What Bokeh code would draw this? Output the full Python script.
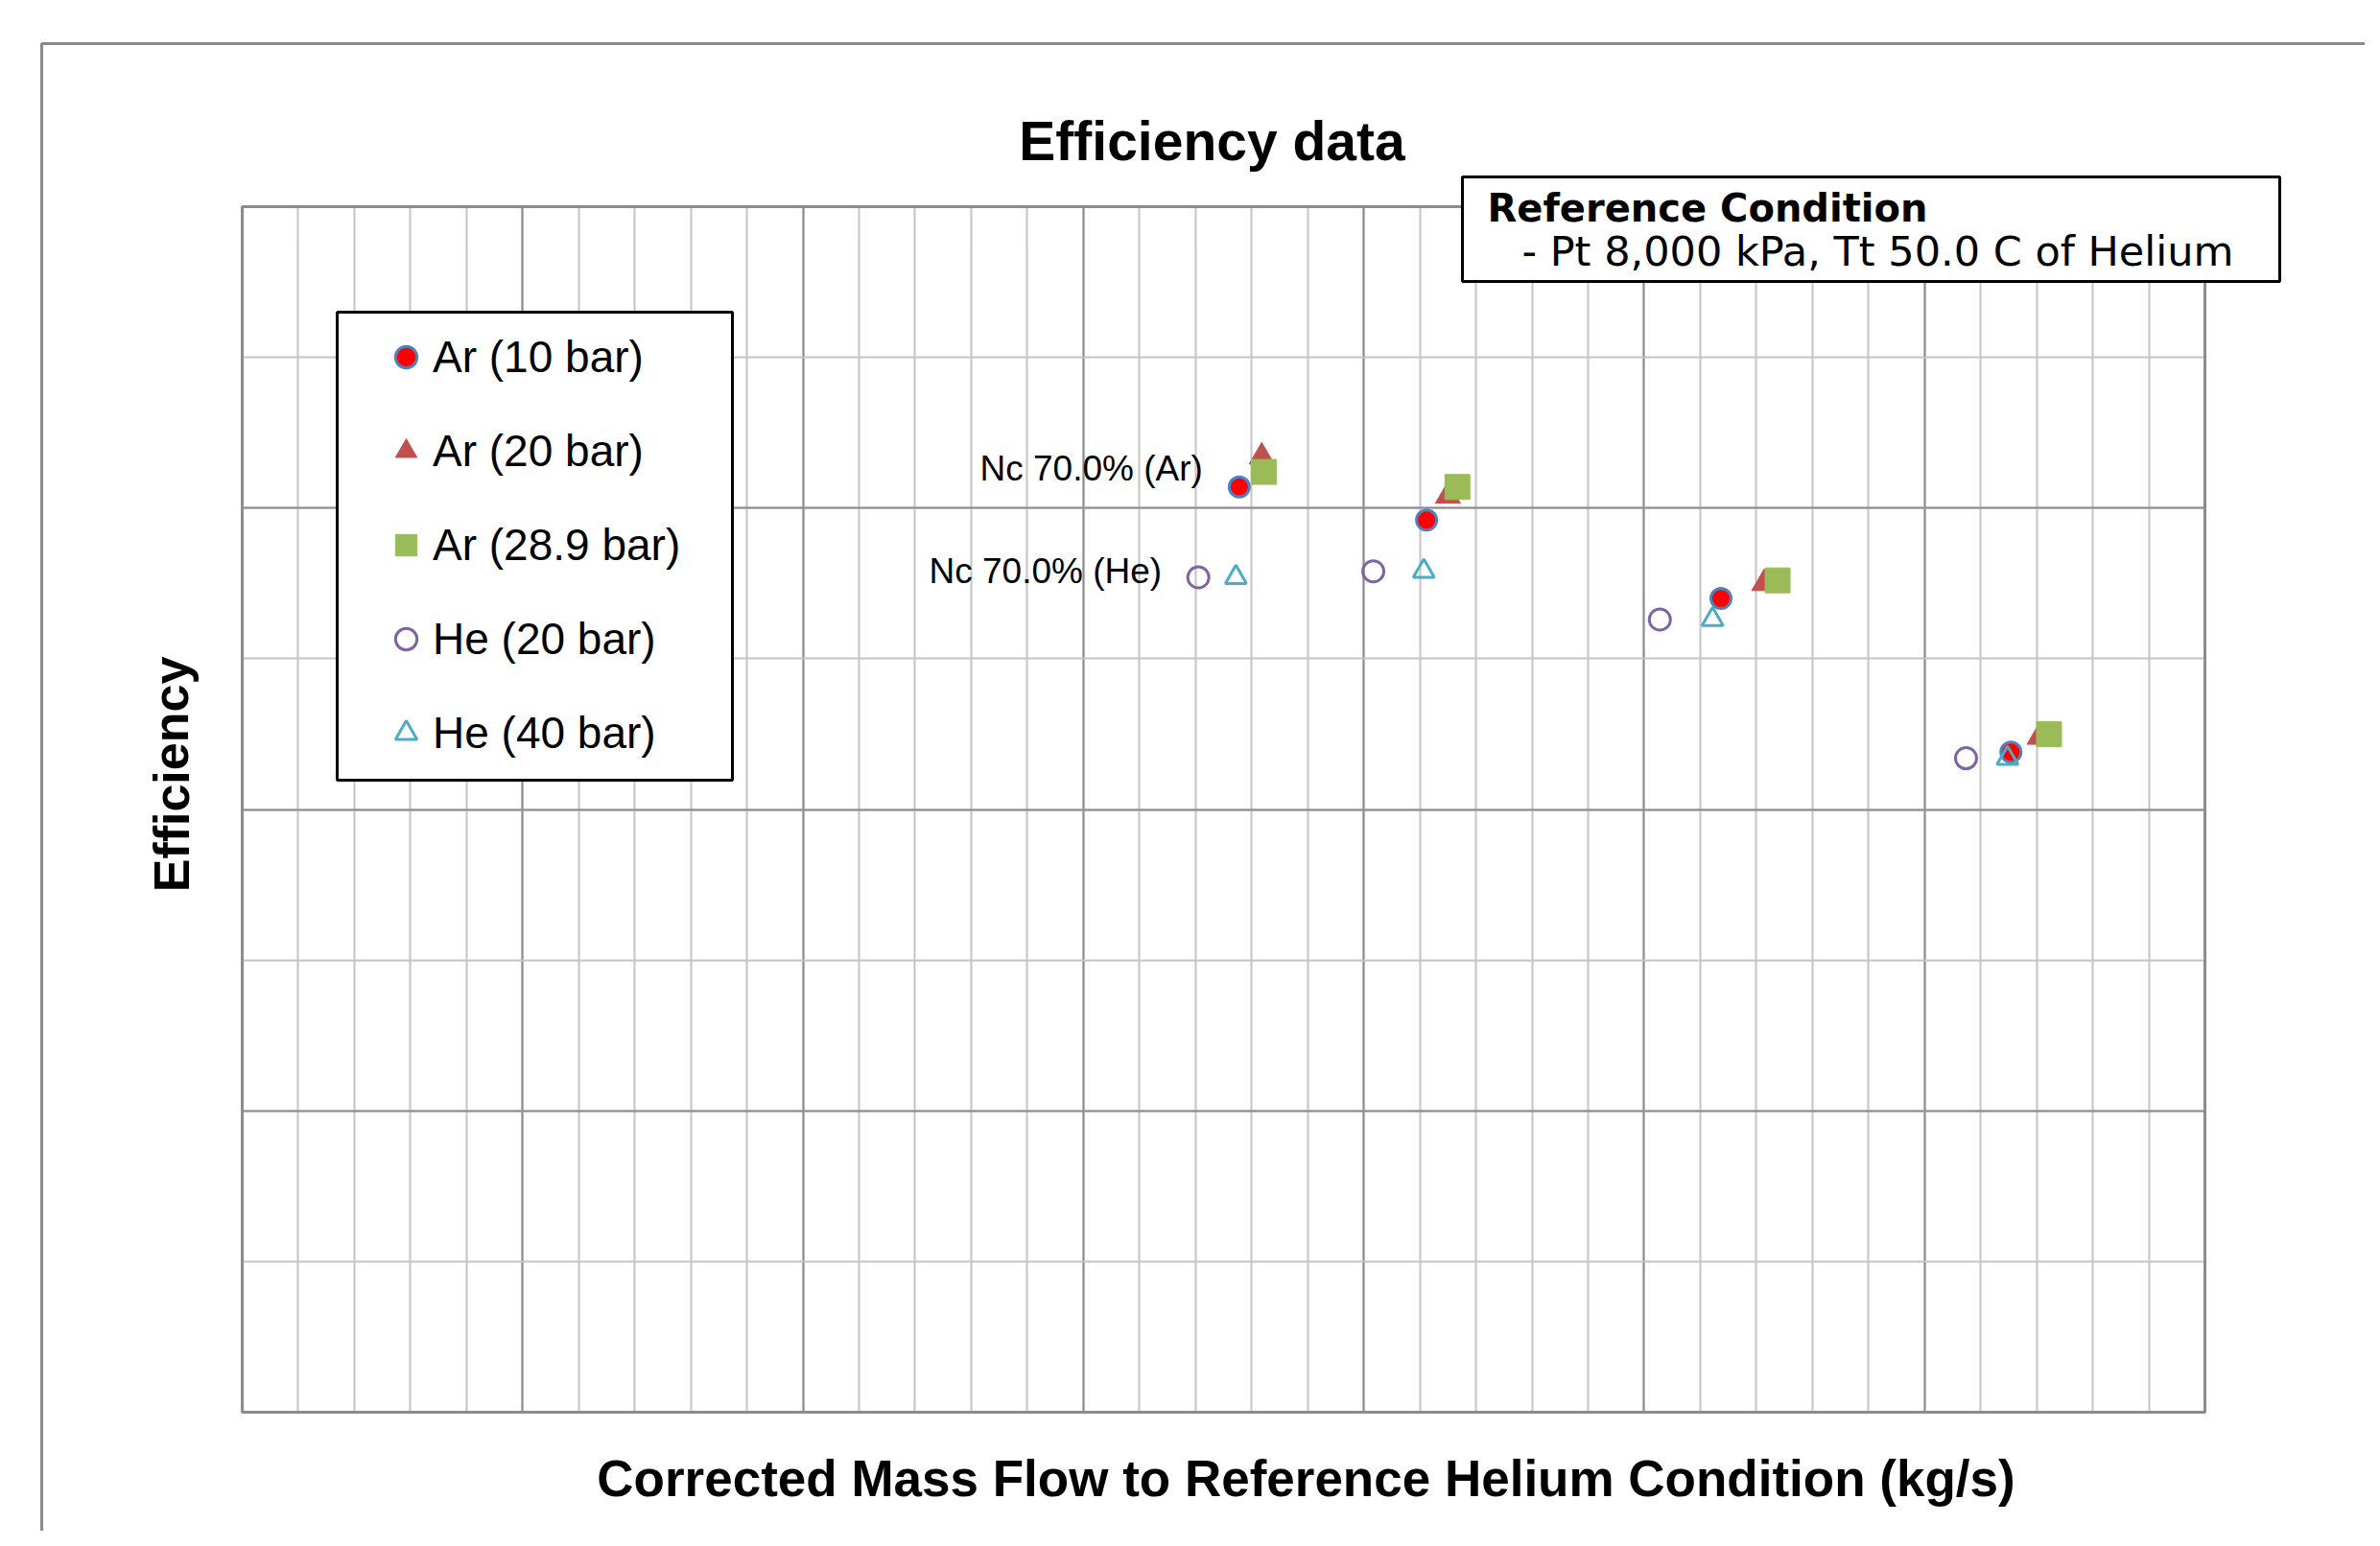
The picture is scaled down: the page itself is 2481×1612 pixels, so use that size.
from bokeh.plotting import figure
from bokeh.models import (Label, BoxAnnotation, Legend, LegendItem, Grid,
                          SingleIntervalTicker, Range1d)
from bokeh.embed import file_html
from bokeh.resources import INLINE

# ---- data (the axes carry no printed tick labels) ----
series_names = ["Ar (10 bar)", "Ar (20 bar)", "Ar (28.9 bar)", "He (20 bar)", "He (40 bar)"]
ar10_x = [1.778, 2.112, 2.637, 3.154]
ar10_y = [0.807, 0.796, 0.770, 0.719]
ar20_x = [1.818, 2.150, 2.714, 3.205]
ar20_y = [0.817, 0.804, 0.775, 0.724]
ar29_x = [1.822, 2.167, 2.738, 3.222]
ar29_y = [0.812, 0.807, 0.776, 0.725]
he20_x = [1.705, 2.017, 2.528, 3.074]
he20_y = [0.777, 0.779, 0.763, 0.717]
he40_x = [1.772, 2.107, 2.622, 3.148]
he40_y = [0.777, 0.779, 0.763, 0.717]
annot_texts = ["Nc 70.0% (Ar)", "Nc 70.0% (He)"]
title_text = "Efficiency data"
x_label = "Corrected Mass Flow to Reference Helium Condition (kg/s)"
y_label = "Efficiency"
ref_title = "Reference Condition"
ref_line = "- Pt 8,000 kPa, Tt 50.0 C of Helium"

# axis extent of the plotting area and its grid spacing
X0, X1, Y0, Y1 = 0.0, 3.5, 0.5, 0.9
X_MAJOR, X_MINORS = 0.5, 5
Y_MAJOR, Y_MINORS = 0.1, 2

W, H = 2465, 1596
# canvas pixel -> data helpers (plot area sits at px 252..2298, 215..1472)
FL, FT, FW, FH = 252, 215, 2046, 1257
def X(px):
    return X0 + (px - FL) / FW * (X1 - X0)
def Y(py):
    return Y1 - (py - FT) / FH * (Y1 - Y0)

p = figure(width=W, height=H, output_backend="svg", toolbar_location=None,
           x_range=Range1d(X(0), X(W)), y_range=Range1d(Y(H), Y(0)),
           x_axis_location=None, y_axis_location=None,
           min_border_left=0, min_border_right=0,
           min_border_top=0, min_border_bottom=0)
p.background_fill_color = "white"
p.border_fill_color = "white"
p.outline_line_color = None

p.xgrid.ticker = SingleIntervalTicker(interval=X_MAJOR, num_minor_ticks=X_MINORS)
p.ygrid.ticker = SingleIntervalTicker(interval=Y_MAJOR, num_minor_ticks=Y_MINORS)
p.xgrid.bounds = (X0, X1)
p.ygrid.bounds = (Y0, Y1)
if "cross_bounds" in Grid.properties():
    p.xgrid.cross_bounds = (Y0, Y1)
    p.ygrid.cross_bounds = (X0, X1)
for g in (p.xgrid, p.ygrid):
    g.grid_line_color = "#8c8c8c"
    g.grid_line_width = 2
    g.minor_grid_line_color = "#c4c4c4"
    g.minor_grid_line_width = 2

r1 = p.scatter(ar10_x, ar10_y, marker="circle", size=21, fill_color="#FF0000",
               line_color="#4F81BD", line_width=3)
r2 = p.scatter(ar20_x, ar20_y, marker="triangle", size=26, fill_color="#C0504D",
               line_color="#C0504D", line_width=1)
r3 = p.scatter(ar29_x, ar29_y, marker="square", size=26, fill_color="#9BBB59",
               line_color="#9BBB59", line_width=1)
r4 = p.scatter(he20_x, he20_y, marker="circle", size=22, fill_color=None,
               line_color="#8064A2", line_width=3)
r5 = p.scatter(he40_x, he40_y, marker="triangle", size=22, fill_color=None,
               line_color="#4BACC6", line_width=3)

# white margins around the plotting area (keep grid inside it)
far_l, far_r, far_t, far_b = X(-100), X(W + 100), Y(-100), Y(H + 100)
for kw in (dict(left=far_l, right=far_r, top=far_t, bottom=Y1),
           dict(left=far_l, right=far_r, top=Y0, bottom=far_b),
           dict(left=far_l, right=X0, top=far_t, bottom=far_b),
           dict(left=X1, right=far_r, top=far_t, bottom=far_b)):
    p.add_layout(BoxAnnotation(fill_color="white", fill_alpha=1,
                               line_alpha=0, **kw))

# plotting-area border
p.add_layout(BoxAnnotation(left=X0, right=X1, bottom=Y0, top=Y1,
                           fill_alpha=0, line_color="#8c8c8c", line_alpha=1,
                           line_width=3))
# outer chart border
p.add_layout(BoxAnnotation(left=X(43), top=Y(45), right=far_r, bottom=far_b,
                           fill_alpha=0, line_color="#8a8a8a", line_alpha=1,
                           line_width=3))

# legend frame
p.add_layout(BoxAnnotation(left=X(351), right=X(763), top=Y(325), bottom=Y(813),
                           fill_color="white", fill_alpha=1,
                           line_color="black", line_alpha=1, line_width=3))

legend = Legend(items=[LegendItem(label=n, renderers=[r])
                       for n, r in zip(series_names, [r1, r2, r3, r4, r5])],
                location=(395, H - 794), orientation="vertical",
                padding=0, margin=0, spacing=38,
                glyph_width=56, glyph_height=60, label_height=60,
                label_standoff=0,
                label_text_font="Liberation Sans", label_text_font_size="46px",
                label_text_color="black",
                border_line_alpha=0, background_fill_alpha=0)
p.add_layout(legend)

# reference condition box
p.add_layout(BoxAnnotation(left=X(1524), right=X(2376), top=Y(184), bottom=Y(293),
                           fill_color="white", fill_alpha=1,
                           line_color="black", line_alpha=1, line_width=3))
p.add_layout(Label(x=X(1550), y=Y(216), text=ref_title, text_font="DejaVu Sans",
                   text_font_style="bold", text_font_size="40px",
                   text_align="left", text_baseline="alphabetic", text_color="black"))
p.add_layout(Label(x=X(1586), y=Y(261), text=ref_line, text_font="DejaVu Sans",
                   text_font_size="43px",
                   text_align="left", text_baseline="alphabetic", text_color="black"))

# title
p.add_layout(Label(x=X(1263), y=Y(146), text=title_text, text_font="Liberation Sans",
                   text_font_style="bold", text_font_size="57px",
                   text_align="center", text_baseline="alphabetic", text_color="black"))
# axis titles
p.add_layout(Label(x=X(1361), y=Y(1541), text=x_label, text_font="Liberation Sans",
                   text_font_style="bold", text_font_size="53px",
                   text_align="center", text_baseline="alphabetic", text_color="black"))
p.add_layout(Label(x=X(178), y=Y(807), text=y_label, text_font="Liberation Sans",
                   text_font_style="bold", text_font_size="52px", angle=1.5708,
                   text_align="center", text_baseline="alphabetic", text_color="black"))

# point annotations
p.add_layout(Label(x=X(1021), y=Y(488), text=annot_texts[0], text_font="Liberation Sans",
                   text_font_size="37px", text_align="left",
                   text_baseline="alphabetic", text_color="black"))
p.add_layout(Label(x=X(968), y=Y(595), text=annot_texts[1], text_font="Liberation Sans",
                   text_font_size="37px", text_align="left",
                   text_baseline="alphabetic", text_color="black"))

open("out.html", "w").write(file_html(p, INLINE))
